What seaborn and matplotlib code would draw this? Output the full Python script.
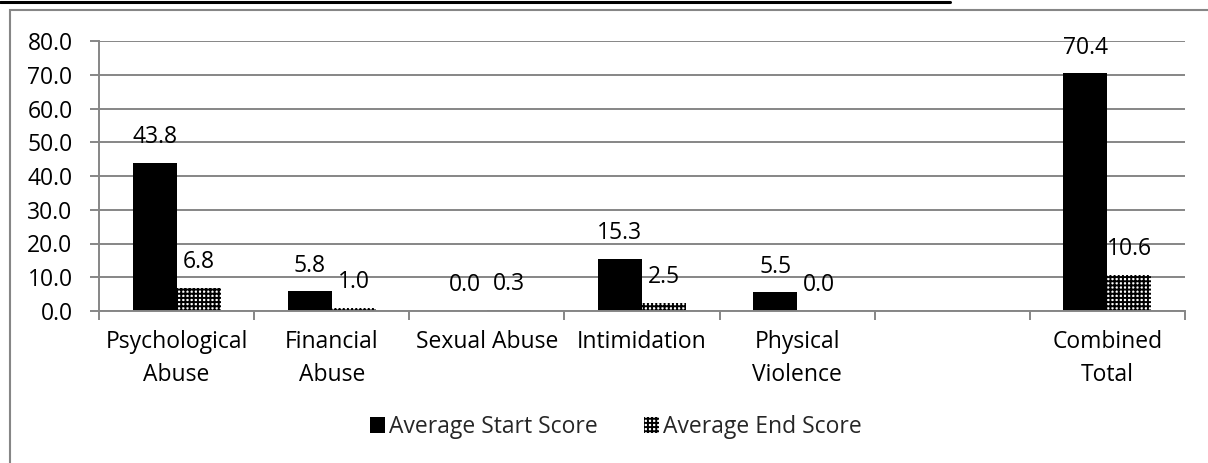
import numpy as np
import pandas as pd
import matplotlib
matplotlib.use("Agg")
import matplotlib.pyplot as plt
import seaborn as sns
from matplotlib.patches import Rectangle, Patch
from matplotlib.lines import Line2D

# ---- data ----
categories = ["Psychological\nAbuse", "Financial\nAbuse", "Sexual Abuse",
              "Intimidation", "Physical\nViolence", " ", "Combined\nTotal"]
start_scores = [43.8, 5.8, 0.0, 15.3, 5.5, None, 70.4]
end_scores = [6.8, 1.0, 0.3, 2.5, 0.0, None, 10.6]
series_names = ["Average Start Score", "Average End Score"]
y_ticks = [0, 10, 20, 30, 40, 50, 60, 70, 80]

rows = []
for c, s, e in zip(categories, start_scores, end_scores):
    if s is not None:
        rows.append({"category": c, "series": series_names[0], "value": s})
    if e is not None:
        rows.append({"category": c, "series": series_names[1], "value": e})
df = pd.DataFrame(rows)

sns.set_theme(style="white")
plt.rcParams["font.family"] = ["Open Sans", "DejaVu Sans"]
plt.rcParams["hatch.linewidth"] = 1.4

FS = 16.5
GRAY = "#868686"
HATCH = "++++"

W, H = 1208, 463
fig = plt.figure(figsize=(W / 100, H / 100), dpi=100)
ax = fig.add_axes([99 / W, 1 - 311 / H, (1185 - 99) / W, (311 - 41) / H])

sns.barplot(data=df, x="category", y="value", hue="series",
            order=categories, hue_order=series_names,
            palette=["black", "black"], saturation=1, width=0.568,
            errorbar=None, legend=False, ax=ax, zorder=3)

for bar in ax.containers[1]:
    bar.set_facecolor("white")
    bar.set_edgecolor("black")
    bar.set_linewidth(0)
    bar.set_hatch(HATCH)
for bar in ax.containers[0]:
    bar.set_linewidth(0)

for cont in ax.containers:
    ax.bar_label(cont, fmt="%.1f", padding=10, fontsize=FS, color="black")

ax.set_xlim(-0.5, len(categories) - 0.5)
ax.set_ylim(0, 80)
ax.set_yticks(y_ticks)
ax.set_yticklabels([f"{v:.1f}" for v in y_ticks])
ax.set_xticks(range(len(categories)))
ax.set_xticklabels(categories, linespacing=1.45)
ax.set_xticks(np.arange(-0.5, len(categories)), minor=True)
ax.set_xlabel("")
ax.set_ylabel("")

ax.grid(axis="y", color=GRAY, linewidth=1.4, zorder=0)
ax.set_axisbelow(True)
for side in ["top", "right"]:
    ax.spines[side].set_visible(False)
for side in ["left", "bottom"]:
    ax.spines[side].set_color(GRAY)
    ax.spines[side].set_linewidth(1.4)
    ax.spines[side].set_zorder(4)

ax.tick_params(axis="y", which="major", left=True, length=6.5, width=1.4,
               color=GRAY, pad=12.5, labelsize=FS, labelcolor="black")
ax.tick_params(axis="x", which="major", bottom=False, length=0, pad=14,
               labelsize=FS, labelcolor="black")
ax.tick_params(axis="x", which="minor", bottom=True, length=6.5, width=1.4,
               color=GRAY)

handles = [Patch(facecolor="black", edgecolor="black", linewidth=0),
           Patch(facecolor="white", edgecolor="black", linewidth=0, hatch=HATCH)]
fig.legend(handles, series_names, loc="center", bbox_to_anchor=(616 / W, 1 - 427 / H),
           ncol=2, frameon=False, fontsize=FS, handlelength=0.65, handleheight=0.65,
           handletextpad=0.2, columnspacing=2.0)

# outer chart frame (cut off at right and bottom)
fig.add_artist(Rectangle((10 / W, -0.5), 2.0, (1 - 10 / H) + 0.5,
                         transform=fig.transFigure, fill=False,
                         edgecolor=GRAY, linewidth=1.5))
# underline of the cropped caption above the chart
fig.add_artist(Line2D([0, 950 / W], [1 - 1.8 / H, 1 - 1.8 / H],
                      transform=fig.transFigure, color="black", linewidth=2.2))

fig.savefig("out.png", dpi=100)
